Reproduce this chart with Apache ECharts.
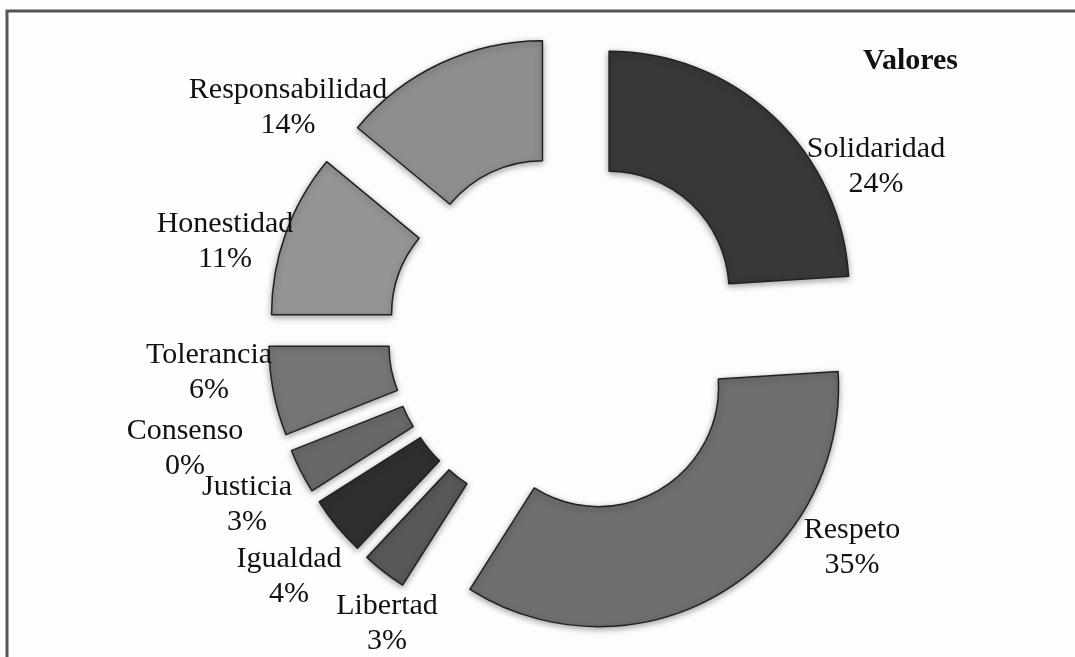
<!DOCTYPE html>
<html>
<head>
<meta charset="utf-8">
<script src="https://cdn.jsdelivr.net/npm/echarts@6/dist/echarts.min.js"></script>
<style>
html,body{margin:0;padding:0;background:#fdfdfd;}
#chart{width:1075px;height:657px;}
</style>
</head>
<body>
<div id="chart"></div>
<script>
// ---- data ----
const categories = ['Solidaridad','Respeto','Libertad','Igualdad','Justicia','Consenso','Tolerancia','Honestidad','Responsabilidad'];
const values = [24, 35, 3, 4, 3, 0, 6, 11, 14];
const sliceColors = ['#383838','#6e6e6e','#585858','#2f2f2f','#686868','#777777','#757575','#959595','#8e8e8e'];
const chartTitle = 'Valores';

// label layout (centres of the two-line label blocks)
const labelCenters = [
  [876, 167], [852, 548], [387, 624], [289, 577], [247, 505],
  [185, 449], [209, 373], [225, 242], [288, 108]
];

const chart = echarts.init(document.getElementById('chart'), null, {renderer: 'canvas'});

const PIE_CENTER = [568, 335];
const PIE_RADIUS = [120, 240];

const sliceData = categories.map((name, i) => ({
  name: name,
  value: values[i],
  selected: true,
  itemStyle: {
    color: sliceColors[i],
    borderWidth: values[i] === 0 ? 0 : 1.5,
    shadowBlur: values[i] === 0 ? 0 : 6
  }
}));

const labelData = categories.map((name, i) => ({name: name, value: values[i]}));

chart.setOption({
  backgroundColor: '#fdfdfd',
  animation: false,
  title: {
    text: chartTitle,
    left: 858,
    top: 41,
    textStyle: {fontFamily: 'Liberation Serif', fontWeight: 'bold', fontSize: 30, color: '#111'}
  },
  graphic: [{
    type: 'rect',
    shape: {x: 7, y: 11, width: 1200, height: 1000},
    style: {fill: 'none', stroke: '#555', lineWidth: 3},
    silent: true
  }],
  series: [{
    type: 'pie',
    center: PIE_CENTER,
    radius: PIE_RADIUS,
    startAngle: 90,
    clockwise: true,
    selectedMode: 'multiple',
    selectedOffset: 60,
    emphasis: {disabled: true},
    itemStyle: {
      borderColor: '#222',
      shadowColor: 'rgba(0,0,0,0.35)',
      shadowOffsetY: 2
    },
    select: {itemStyle: {borderColor: '#222'}},
    label: {show: false},
    labelLine: {show: false},
    data: sliceData
  }, {
    type: 'pie',
    center: PIE_CENTER,
    radius: PIE_RADIUS,
    startAngle: 90,
    clockwise: true,
    silent: true,
    selectedMode: false,
    emphasis: {disabled: true},
    avoidLabelOverlap: false,
    z: 5,
    itemStyle: {color: 'rgba(0,0,0,0)', borderWidth: 0},
    label: {
      show: true,
      position: 'outside',
      formatter: '{b}\n{c}%',
      fontFamily: 'Liberation Serif',
      fontSize: 30,
      lineHeight: 35,
      color: '#111',
      align: 'center'
    },
    labelLine: {show: false},
    labelLayout: function (params) {
      const p = labelCenters[params.dataIndex];
      return {x: p[0], y: p[1], align: 'center', verticalAlign: 'middle'};
    },
    data: labelData
  }]
});
</script>
</body>
</html>
